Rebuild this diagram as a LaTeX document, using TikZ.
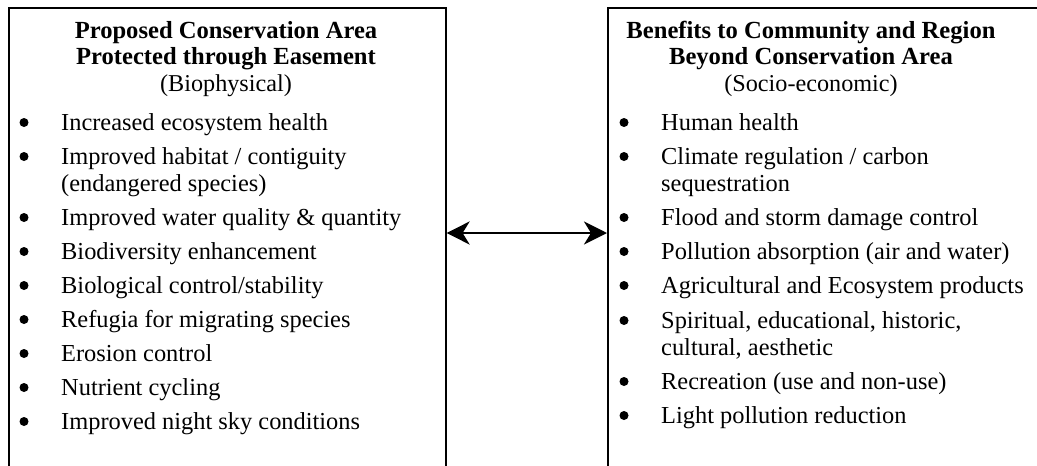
\documentclass[tikz,border=0pt]{standalone}
\usepackage{fontspec}
\setmainfont{Liberation Serif}
\usetikzlibrary{arrows.meta}
\begin{document}
\begin{tikzpicture}[x=1pt,y=-1pt,
  box/.style={draw, line width=1.6pt, rectangle, inner sep=0pt, anchor=north west},
  head/.style={font=\fontsize{24.6}{26.5}\selectfont\bfseries, anchor=base, inner sep=0pt},
  sub/.style={font=\fontsize{24.2}{26.5}\selectfont, anchor=base, inner sep=0pt},
  itm/.style={font=\fontsize{24.4}{27}\selectfont, anchor=base west, inner sep=0pt},
  bul/.style={circle, fill=black, inner sep=0pt, minimum size=9pt},
  link/.style={line width=2.8pt, {Stealth[length=23pt,width=23pt,inset=7pt]}-{Stealth[length=23pt,width=23pt,inset=7pt]}}
]
\useasboundingbox (0,0) rectangle (1037,466);
\clip (0,0) rectangle (1037,466);
\fill[white] (0,0) rectangle (1037,466);
% boxes
\node[box, minimum width=437pt, minimum height=500pt] (L) at (8,7) {};
\node[box, minimum width=460pt, minimum height=500pt] (R) at (607,7) {};
% arrow
\coordinate (ay) at (0,233);
\draw[link] (L.east |- ay) -- (R.west |- ay);
% left heading
\node[head] (lh1) at (226,38) {Proposed Conservation Area};
\node[head] (lh2) at (226,64.5) {Protected through Easement};
\node[sub] (lh3) at (226,91) {(Biophysical)};
% right heading
\node[head] (rh1) at (811,38) {Benefits to Community and Region};
\node[head] (rh2) at (811,64.5) {Beyond Conservation Area};
\node[sub] (rh3) at (811,91) {(Socio-economic)};
% left items
\foreach \y/\t [count=\i] in {130/{Increased ecosystem health},
  164/{Improved habitat / contiguity},
  225/{Improved water quality \& quantity},
  259/{Biodiversity enhancement},
  293/{Biological control/stability},
  327/{Refugia for migrating species},
  361/{Erosion control},
  395/{Nutrient cycling},
  429/{Improved night sky conditions}}{
  \node[bul] (lb\i) at (24,\y-7.5) {};
  \node[itm] (li\i) at (61,\y) {\t};
}
\node[itm] (li2b) at (61,191) {(endangered species)};
% right items
\foreach \y/\t [count=\i] in {130/{Human health},
  164/{Climate regulation / carbon},
  225/{Flood and storm damage control},
  259/{Pollution absorption (air and water)},
  293/{Agricultural and Ecosystem products},
  328/{Spiritual, educational, historic,},
  389/{Recreation (use and non-use)},
  423/{Light pollution reduction}}{
  \node[bul] (rb\i) at (624,\y-7.5) {};
  \node[itm] (ri\i) at (661,\y) {\t};
}
\node[itm] (ri2b) at (661,191) {sequestration};
\node[itm] (ri6b) at (661,355) {cultural, aesthetic};
\end{tikzpicture}
\end{document}
